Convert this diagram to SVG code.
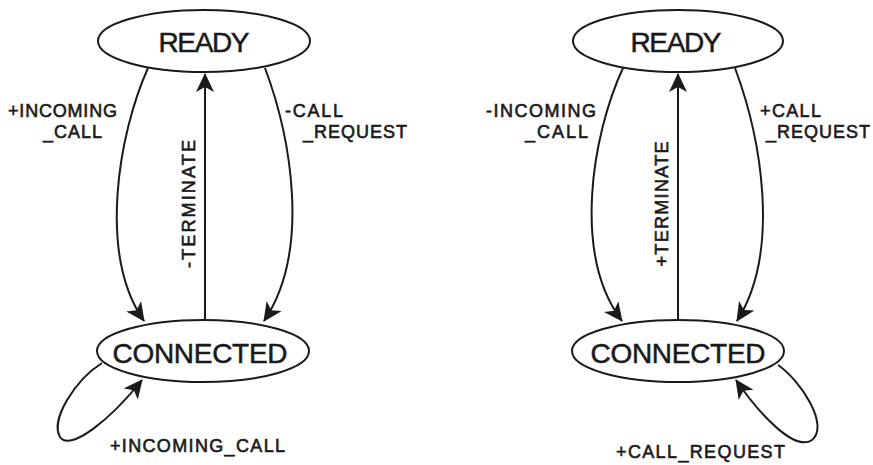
<svg xmlns="http://www.w3.org/2000/svg" width="873" height="465" viewBox="0 0 873 465">
<style>
.st{fill:#fff;stroke:#1a1a1a;stroke-width:2}
.e{stroke:#1a1a1a;stroke-width:2;fill:none}
.big{font-family:"Liberation Sans",Arial,sans-serif;font-size:28px;fill:#1a1a1a;stroke:#1a1a1a;stroke-width:0.5}
.lb{font-family:"Liberation Sans",Arial,sans-serif;font-size:18px;fill:#1a1a1a;stroke:#1a1a1a;stroke-width:0.6}
</style>
<defs>
<marker id="ah" viewBox="-18 -9 20 18" refX="0" refY="0" markerWidth="20" markerHeight="18" markerUnits="userSpaceOnUse" orient="auto">
<path d="M1,0 L-18,-9 L-13,0 L-18,9 Z" fill="#1a1a1a"/>
</marker>
</defs>
<rect width="873" height="465" fill="#fff"/>
<g id="connectors">
<path class="e" d="M148,68 C118,135 98,255 144,321" marker-end="url(#ah)"/>
<path class="e" d="M265,68 C290,135 312,250 264,321" marker-end="url(#ah)"/>
<path class="e" d="M205,320 L205,74" marker-end="url(#ah)"/>
<path class="e" d="M102,363 C75,380 50,420 60,437 C70,452 110,420 142,380" marker-end="url(#ah)"/>
<path class="e" d="M623,68 C592,135 572,255 622,321" marker-end="url(#ah)"/>
<path class="e" d="M735,68 C760,135 782,250 737,321" marker-end="url(#ah)"/>
<path class="e" d="M678,320 L678,74" marker-end="url(#ah)"/>
<path class="e" d="M778,365 C800,380 830,425 812,440 C795,452 760,415 736,380" marker-end="url(#ah)"/>
<text class="lb" x="8" y="117" textLength="109">+INCOMING</text>
<text class="lb" x="43" y="138" textLength="59">_CALL</text>
<text class="lb" x="285" y="117" textLength="58">-CALL</text>
<text class="lb" x="303" y="138" textLength="104">_REQUEST</text>
<text class="lb" transform="translate(195,204) rotate(-90)" text-anchor="middle" textLength="128">-TERMINATE</text>
<text class="lb" x="110" y="452" textLength="175">+INCOMING_CALL</text>
<text class="lb" x="486" y="117" textLength="110">-INCOMING</text>
<text class="lb" x="525" y="138" textLength="63">_CALL</text>
<text class="lb" x="760" y="117" textLength="61">+CALL</text>
<text class="lb" x="766" y="138" textLength="104">_REQUEST</text>
<text class="lb" transform="translate(668,204) rotate(-90)" text-anchor="middle" textLength="125">+TERMINATE</text>
<text class="lb" x="616" y="458" textLength="169">+CALL_REQUEST</text>
</g>
<g id="ready1">
<ellipse class="st" cx="204" cy="41" rx="106" ry="31"/>
<text class="big" x="204" y="52" text-anchor="middle" textLength="91">READY</text>
</g>
<g id="connected1">
<ellipse class="st" cx="203" cy="351" rx="106" ry="31"/>
<text class="big" x="200" y="363" text-anchor="middle" textLength="175">CONNECTED</text>
</g>
<g id="ready2">
<ellipse class="st" cx="678" cy="41" rx="105" ry="31"/>
<text class="big" x="676" y="52" text-anchor="middle" textLength="91">READY</text>
</g>
<g id="connected2">
<ellipse class="st" cx="678" cy="351" rx="106" ry="31"/>
<text class="big" x="678" y="363" text-anchor="middle" textLength="175">CONNECTED</text>
</g>
</svg>
